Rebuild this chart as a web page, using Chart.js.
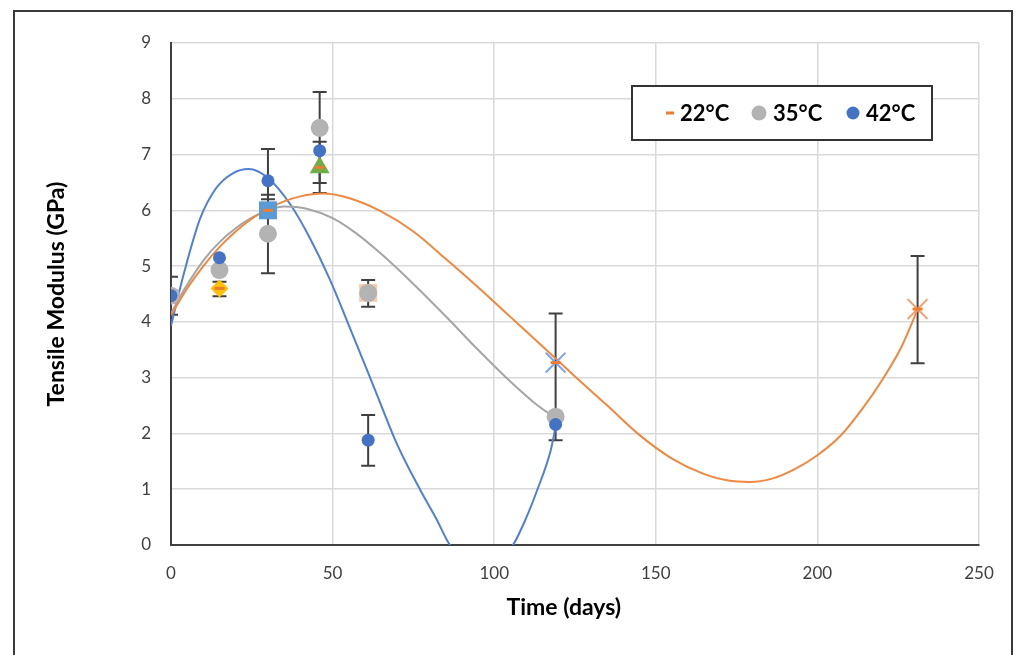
<!DOCTYPE html>
<html>
<head>
<meta charset="utf-8">
<title>Tensile Modulus vs Time</title>
<script src="https://cdn.jsdelivr.net/npm/chart.js@4.4.0/dist/chart.umd.min.js"></script>
<style>
  html, body { margin: 0; padding: 0; background: #fff; }
  #wrap { width: 1015px; height: 655px; }
</style>
</head>
<body>
<div id="wrap"><canvas id="myChart" width="1015" height="655"></canvas></div>
<script>
var days  = [0, 15, 30, 46, 61, 119, 231];
var mod22 = [null, 4.60, 6.00, 6.77, 4.52, 3.27, 4.23];
var mod35 = [4.47, 4.93, 5.58, 7.48, 4.52, 2.30, null];
var mod42 = [4.47, 5.15, 6.53, 7.07, 1.88, 2.16, null];

// error bars (low / high ends)
var errDays = [0, 15, 30, 30, 46, 46, 61, 61, 119, 231];
var errLow  = [4.13, 4.46, 4.87, 6.20, 6.31, 6.49, 4.27, 1.42, 1.88, 3.26];
var errHigh = [4.81, 4.72, 7.10, 6.28, 8.12, 7.23, 4.75, 2.33, 4.15, 5.18];

// polynomial trendlines
var trendDays22 = [0, 5, 10, 15, 20, 25, 30, 35, 40, 47, 55, 65, 75, 85, 95, 105, 115, 125, 135, 145, 155, 165, 172, 179, 186, 193, 200, 207, 214, 220.5, 226, 231];
var trend22     = [4.12, 4.60, 5.00, 5.34, 5.62, 5.85, 6.03, 6.16, 6.25, 6.30, 6.22, 5.98, 5.62, 5.13, 4.62, 4.09, 3.56, 3.02, 2.50, 1.97, 1.55, 1.27, 1.16, 1.13, 1.19, 1.36, 1.61, 1.95, 2.45, 3.00, 3.55, 4.22];
var trendDays35 = [0, 4, 10, 15, 20, 25, 30, 35, 42, 50, 57, 65, 75, 85, 95, 105, 112, 119];
var trend35     = [4.15, 4.57, 5.10, 5.43, 5.68, 5.87, 6.00, 6.07, 6.03, 5.86, 5.60, 5.22, 4.68, 4.10, 3.50, 2.93, 2.57, 2.27];
var trendDays42 = [0, 4, 9, 14, 19, 24, 30, 37, 43, 49, 56, 63, 70, 77, 82, 86.3, 96, 105.8, 110, 113.4, 117.5, 119];
var trend42     = [3.93, 4.87, 5.85, 6.40, 6.66, 6.74, 6.58, 6.10, 5.50, 4.78, 3.80, 2.80, 1.80, 1.00, 0.48, 0.00, -0.50, 0.00, 0.50, 1.00, 1.70, 2.12];

function pts(xs, ys) {
    var out = [];
    for (var i = 0; i < xs.length; i++) {
        if (ys[i] !== null) out.push({ x: xs[i], y: ys[i] });
    }
    return out;
}

var FONT = "Lato, 'Open Sans', sans-serif";

// white page + outer frame
var frame = {
    id: 'frame',
    beforeDraw: function(chart) {
        var ctx = chart.ctx;
        ctx.save();
        ctx.fillStyle = '#fff';
        ctx.fillRect(0, 0, chart.width, chart.height);
        ctx.strokeStyle = '#3a3a3a';
        ctx.lineWidth = 2;
        ctx.strokeRect(14, 11, 998, 700);
        ctx.restore();
    }
};

// error bars drawn through the scales
var errorBars = {
    id: 'errorBars',
    beforeDatasetsDraw: function(chart) {
        var ctx = chart.ctx, xs = chart.scales.x, ys = chart.scales.y, a = chart.chartArea;
        ctx.save();
        ctx.beginPath();
        ctx.rect(a.left, a.top, a.right - a.left, a.bottom - a.top);
        ctx.clip();
        ctx.strokeStyle = '#404040';
        ctx.lineWidth = 2;
        for (var i = 0; i < errDays.length; i++) {
            var px = xs.getPixelForValue(errDays[i]);
            var lo = ys.getPixelForValue(errLow[i]);
            var hi = ys.getPixelForValue(errHigh[i]);
            ctx.beginPath();
            ctx.moveTo(px, lo); ctx.lineTo(px, hi);
            ctx.moveTo(px - 7, lo); ctx.lineTo(px + 7, lo);
            ctx.moveTo(px - 7, hi); ctx.lineTo(px + 7, hi);
            ctx.stroke();
        }
        ctx.restore();
    }
};

// boxed legend inside the plot
var boxLegend = {
    id: 'boxLegend',
    afterDraw: function(chart) {
        var ctx = chart.ctx;
        ctx.save();
        ctx.fillStyle = '#fff';
        ctx.fillRect(632, 86, 300, 54);
        ctx.strokeStyle = '#333';
        ctx.lineWidth = 2;
        ctx.strokeRect(632, 86, 300, 54);
        var cy = 113;
        ctx.font = 'bold 22px ' + FONT;
        ctx.textBaseline = 'middle';
        ctx.fillStyle = '#000';
        // 22°C dash
        ctx.strokeStyle = '#ED7D31';
        ctx.lineWidth = 3;
        ctx.beginPath(); ctx.moveTo(666, cy); ctx.lineTo(674, cy); ctx.stroke();
        ctx.fillText(chart.data.datasets[0].label, 680, cy + 1);
        // 35°C
        ctx.fillStyle = '#B3B3B3';
        ctx.beginPath(); ctx.arc(759, cy, 7.5, 0, Math.PI * 2); ctx.fill();
        ctx.fillStyle = '#000';
        ctx.fillText(chart.data.datasets[1].label, 773, cy + 1);
        // 42°C
        ctx.fillStyle = '#4472C4';
        ctx.beginPath(); ctx.arc(853, cy, 6.5, 0, Math.PI * 2); ctx.fill();
        ctx.fillStyle = '#000';
        ctx.fillText(chart.data.datasets[2].label, 866, cy + 1);
        ctx.restore();
    }
};

var ctx = document.getElementById('myChart').getContext('2d');

var trendStyle = {
    showLine: true,
    pointRadius: 0,
    borderWidth: 2,
    cubicInterpolationMode: 'monotone',
    clip: 0
};

var myChart = new Chart(ctx, {
    type: 'scatter',
    data: {
        datasets: [
            {
                label: '22°C',
                data: pts(days, mod22),
                pointStyle: 'line',
                pointRadius: 5,
                borderColor: '#ED7D31',
                borderWidth: 3,
                order: 3
            },
            {
                label: '35°C',
                data: pts(days, mod35),
                pointRadius: 9,
                backgroundColor: '#B3B3B3',
                borderColor: '#B3B3B3',
                borderWidth: 0,
                order: 2
            },
            {
                label: '42°C',
                data: pts(days, mod42),
                pointRadius: 6.5,
                backgroundColor: '#4472C4',
                borderColor: '#4472C4',
                borderWidth: 0,
                order: 1
            },
            {
                // the per-day markers under the 22°C dashes
                label: 'markers',
                data: pts(days.slice(1), mod22.slice(1)),
                pointStyle: ['rectRot', 'rect', 'triangle', 'rect', 'crossRot', 'crossRot'],
                pointRadius: [9, 12.7, 11.5, 12.7, 14, 14],
                backgroundColor: ['#FFC000', '#5B9BD5', '#70AD47', '#F8CBAD', '#7FA6E6', '#F4A06A'],
                borderColor: ['#FFC000', '#5B9BD5', '#70AD47', '#F8CBAD', '#7FA6E6', '#F4A06A'],
                borderWidth: [0, 0, 0, 0, 2, 2],
                order: 4
            },
            Object.assign({
                label: 'trend22',
                data: pts(trendDays22, trend22),
                borderColor: '#F0883F',
                order: 5
            }, trendStyle),
            Object.assign({
                label: 'trend35',
                data: pts(trendDays35, trend35),
                borderColor: '#A5A5A5',
                order: 6
            }, trendStyle),
            Object.assign({
                label: 'trend42',
                data: pts(trendDays42, trend42),
                borderColor: '#4F7FD6',
                order: 7
            }, trendStyle)
        ]
    },
    options: {
        responsive: false,
        animation: false,
        layout: { padding: { left: 0, right: 36, top: 43, bottom: 0 } },
        plugins: {
            legend: { display: false },
            tooltip: { enabled: false }
        },
        scales: {
            x: {
                type: 'linear',
                min: 0,
                max: 250,
                ticks: { stepSize: 50, padding: 18, color: '#404040', font: { family: FONT, size: 17 } },
                grid: { color: '#D9D9D9', lineWidth: 1.5, drawTicks: false },
                border: { color: '#404040', width: 2 },
                title: {
                    display: true,
                    text: 'Time (days)\u00A0\u00A0\u00A0\u00A0',
                    color: '#000',
                    font: { family: FONT, size: 23, weight: 'bold' },
                    padding: { top: 0, bottom: 34 }
                },
                afterFit: function(scale) { scale.height = 110; }
            },
            y: {
                min: 0,
                max: 9,
                ticks: { stepSize: 1, padding: 20, color: '#404040', font: { family: FONT, size: 17 } },
                grid: { color: '#D9D9D9', lineWidth: 1.5, drawTicks: false },
                border: { color: '#404040', width: 2 },
                title: {
                    display: true,
                    text: 'Tensile Modulus (GPa)',
                    color: '#000',
                    font: { family: FONT, size: 23, weight: 'bold' },
                    padding: { top: 43, bottom: 0 }
                },
                afterFit: function(scale) { scale.width = 171; }
            }
        }
    },
    plugins: [frame, errorBars, boxLegend]
});
</script>
</body>
</html>
